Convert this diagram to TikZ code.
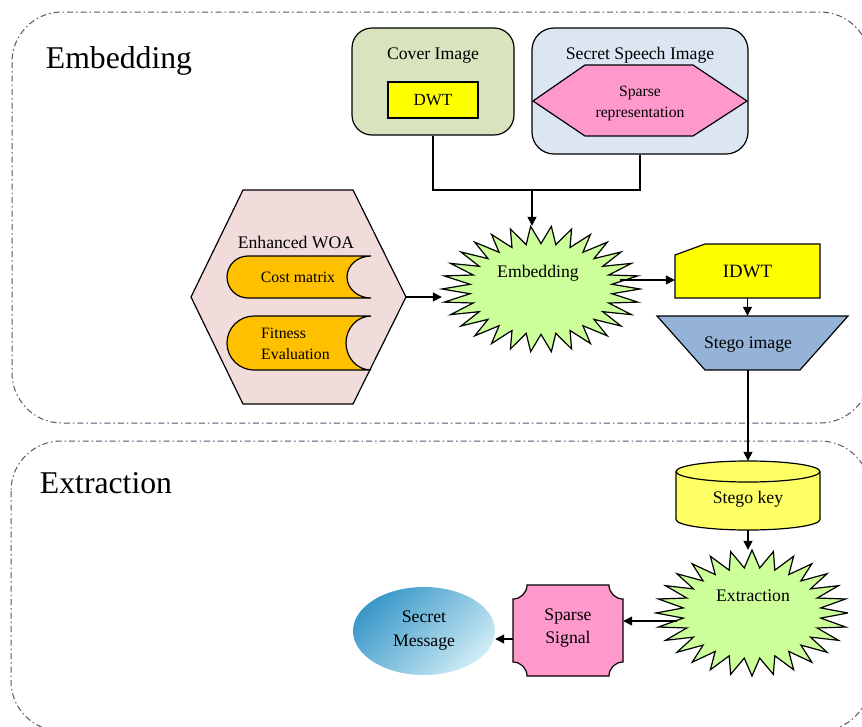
\documentclass[tikz,border=0pt]{standalone}
\usepackage{fontspec}
\setmainfont{Liberation Serif}
\usetikzlibrary{arrows.meta,shapes.geometric,calc}

\definecolor{coverfill}{HTML}{D7E4BD}
\definecolor{secretfill}{HTML}{DCE6F2}
\definecolor{pinkfill}{HTML}{FF99CC}
\definecolor{woafill}{HTML}{F2DCDB}
\definecolor{storefill}{HTML}{FFC000}
\definecolor{burstfill}{HTML}{CCFF99}
\definecolor{idwtfill}{HTML}{FFFF00}
\definecolor{stegofill}{HTML}{95B3D7}
\definecolor{keyfill}{HTML}{FFFF66}
\definecolor{framecol}{HTML}{5B4F6E}
\definecolor{msgdark}{HTML}{3A98C9}
\definecolor{msglight}{HTML}{CDEBF4}

\tikzset{
  txt/.style={font=\fontsize{17.7}{21}\selectfont, inner sep=0pt, align=center},
  smalltxt/.style={font=\fontsize{15.8}{21}\selectfont, inner sep=0pt, align=center},
  bigtxt/.style={font=\fontsize{31.7}{36}\selectfont, inner sep=0pt},
  frame/.style={draw=framecol, line width=1pt, rounded corners=50pt,
    dash pattern=on 6pt off 3pt on 1.5pt off 3pt},
  shapeline/.style={draw=black, line width=1.2pt, line join=miter},
  holder/.style={inner sep=0pt, draw=none},
  arr/.style={line width=1.3pt, -{Triangle[length=9pt,width=9pt]}},
  wire/.style={line width=1.3pt},
}

% starburst outline around a centre: #1 centre, #2/#3 radii, #4 points, #5 inner ratio, #6 fill
\newcommand\burstshape[6]{%
  \begin{scope}[shift={(#1)}]
    \filldraw[shapeline, fill=#6]
      plot[domain=0:360, samples={2*#4+1}, variable=\t]
      ({#2*(1-(1-#5)*mod(round(\t*#4/180),2))*cos(\t)},
       {#3*(1-(1-#5)*mod(round(\t*#4/180),2))*sin(\t)}) -- cycle;
  \end{scope}}

\begin{document}
\begin{tikzpicture}[x=1pt, y=-1pt]
\useasboundingbox (0,0) rectangle (862,726);

% ---- stage frames ----
\draw[frame] (12,12) rectangle (870,423);
\draw[frame] (11,441) rectangle (870,731);
\node[bigtxt] (lblEmb) at (119,61) {Embedding};
\node[bigtxt] (lblExt) at (106,483) {Extraction};

% ---- cover image ----
\node[shapeline, fill=coverfill, rounded corners=20pt, minimum width=162pt,
      minimum height=107pt] (cover) at (433,81.5) {};
\node[txt] (coverT) at (433,55.5) {Cover Image};
\node[shapeline, fill=idwtfill, minimum width=90pt, minimum height=36pt,
      inner sep=0pt, font=\fontsize{17}{20}\selectfont] (dwt) at (433,100)
      {DWT\hspace{20pt}};

% ---- secret speech image ----
\node[shapeline, fill=secretfill, rounded corners=22pt, minimum width=216pt,
      minimum height=126pt] (secret) at (640,91) {};
\node[txt] (secretT) at (640,55.5) {Secret Speech Image};
\filldraw[shapeline, fill=pinkfill] (533,101) -- (585,65) -- (693,65) -- (747,101)
  -- (693,136) -- (585,136) -- cycle;
\node[smalltxt, font=\fontsize{15.7}{21}\selectfont] (sparseR) at (640,103.5)
  {Sparse\\representation};

% ---- enhanced WOA ----
\filldraw[shapeline, fill=woafill] (191,297) -- (243,190) -- (353,190) -- (406,297)
  -- (353,404) -- (243,404) -- cycle;
\coordinate (woaE) at (406,297);
\node[txt] (woaT) at (296,242) {Enhanced WOA};
\filldraw[shapeline, fill=storefill] (371,256) -- (248,256)
  arc[start angle=270, end angle=90, radius=21] -- (371,298)
  arc[start angle=90, end angle=270, x radius=24, y radius=21] -- cycle;
\node[smalltxt] (cost) at (298,277.5) {Cost matrix};
\filldraw[shapeline, fill=storefill] (371,316) -- (254,316)
  arc[start angle=270, end angle=90, radius=27] -- (371,370)
  arc[start angle=90, end angle=270, x radius=25, y radius=27] -- cycle;
\node[smalltxt, anchor=west, align=left] (fit) at (261,344) {Fitness\\Evaluation};

% ---- embedding burst ----
\node[holder, ellipse, minimum width=198pt, minimum height=126pt] (emb) at (541,289) {};
\burstshape{emb.center}{99}{63}{30}{0.72}{burstfill}
\node[txt] (embT) at (538,273) {Embedding};

% ---- IDWT ----
\filldraw[shapeline, fill=idwtfill] (675,255) -- (705,244) -- (820,244) -- (820,298)
  -- (675,298) -- cycle;
\node[holder, minimum width=145pt, minimum height=54pt] (idwt) at (747.5,271) {};
\node[txt, font=\fontsize{18.8}{22}\selectfont] (idwtT) at (747.5,271) {IDWT};

% ---- stego image ----
\filldraw[shapeline, fill=stegofill] (657,316) -- (848,316) -- (800,370) -- (705,370) -- cycle;
\node[holder, minimum width=95pt, minimum height=54pt] (stimg) at (748,343) {};
\node[txt] (stimgT) at (748,345) {Stego image};

% ---- stego key ----
\filldraw[shapeline, fill=keyfill] (676,471.5) -- (676,519.5)
  arc[start angle=180, end angle=0, x radius=72, y radius=10.5] -- (820,471.5)
  arc[start angle=0, end angle=-180, x radius=72, y radius=10.5] -- cycle;
\draw[shapeline] (676,471.5) arc[start angle=180, end angle=0, x radius=72, y radius=10.5];
\node[holder, minimum width=144pt, minimum height=69pt] (skey) at (748,495.5) {};
\node[txt] (skeyT) at (748,499) {Stego key};

% ---- extraction burst ----
\node[holder, ellipse, minimum width=192pt, minimum height=126pt] (ext) at (752,613) {};
\burstshape{ext.center}{96}{63}{28}{0.72}{burstfill}
\node[txt] (extT) at (753,596) {Extraction};

% ---- sparse signal ----
\filldraw[shapeline, fill=pinkfill] (527,585) -- (609,585)
  arc[start angle=180, end angle=90, radius=14] -- (623,662)
  arc[start angle=270, end angle=180, radius=14] -- (527,676)
  arc[start angle=0, end angle=-90, radius=14] -- (513,599)
  arc[start angle=90, end angle=0, radius=14] -- cycle;
\node[holder, minimum width=110pt, minimum height=91pt] (ss) at (568,630.5) {};
\node[txt, font=\fontsize{17.7}{23}\selectfont] (ssT) at (568,628) {Sparse\\Signal};

% ---- secret message ----
\node[ellipse, inner sep=0pt, minimum width=142pt, minimum height=88pt,
      top color=msgdark, bottom color=msglight, shading angle=45] (msg) at (424,631) {};
\node[txt, font=\fontsize{17.7}{24}\selectfont] (msgT) at (424,630.5) {Secret\\Message};

% ---- connectors ----
\coordinate (junc) at (532,190);
\coordinate (embOut) at ([xshift=-20pt,yshift=9pt]emb.east);
\coordinate (extOut) at ([xshift=21pt,yshift=-8pt]ext.west);
\coordinate (ssOut) at ([yshift=-8.5pt]ss.west);
\draw[wire] (cover.south) |- (junc);
\draw[wire] (secret.south) |- (junc);
\draw[arr] (junc) -- (junc |- emb.north);
\draw[arr] (woaE) -- (woaE -| emb.west);
\draw[arr] (embOut) -- (embOut -| idwt.west);
\draw[arr] (idwt.south) -- (idwt.south |- stimg.north);
\draw[arr] (stimg.south) -- (skey.north);
\draw[arr] (skey.south) -- (skey.south |- ext.north);
\draw[arr] (extOut) -- (extOut -| ss.east);
\draw[arr] (ssOut) -- (ssOut -| msg.east);
\end{tikzpicture}
\end{document}
